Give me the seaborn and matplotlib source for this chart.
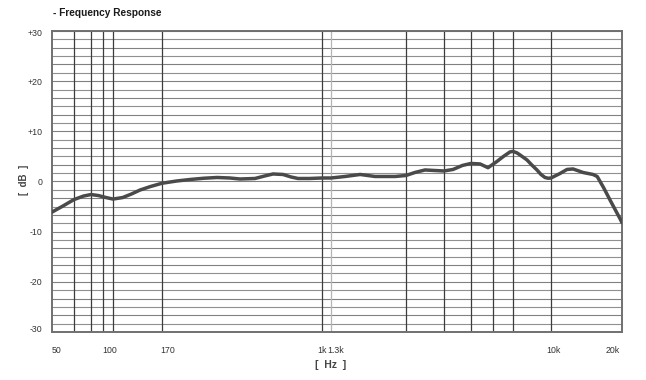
import numpy as np
import pandas as pd
import matplotlib
matplotlib.use("Agg")
import matplotlib.pyplot as plt
import matplotlib.transforms as mtransforms
import seaborn as sns

# ---- data ----
freq_hz = [50, 56, 63, 72, 80, 86, 93, 100, 111, 122, 134, 150, 170, 200, 232, 270, 313, 360, 403,
           476, 530, 581, 649, 710, 767, 870, 1000, 1300, 1409, 1537, 1675, 1879, 2000, 2200, 2450,
           2700, 3000, 3303, 3650, 4000, 4385, 4753, 5185, 5500, 5840, 6000, 6330, 6590, 7240,
           7720, 8280, 8740, 9220, 9620, 10000, 10920, 11690, 12400, 13670, 15070, 15700, 16700,
           17800, 19610, 20000]
response_db = [-6.1, -4.9, -3.6, -2.9, -2.6, -2.8, -3.2, -3.5, -3.2, -2.5, -1.7, -1.0, -0.35,
               0.1, 0.4, 0.65, 0.8, 0.7, 0.5, 0.6, 1.1, 1.5, 1.4, 0.9, 0.6, 0.6, 0.7, 0.7, 1.0,
               1.4, 1.0, 1.0, 1.2, 1.8, 2.3, 2.2, 2.1, 2.4, 3.2, 3.6, 3.5, 2.75, 4.0, 5.0, 5.9,
               6.0, 5.7, 5.3, 4.3, 3.3, 2.3, 1.4, 0.8, 0.65, 0.7, 1.6, 2.4, 2.5, 1.8, 1.4, 1.0,
               -1.2, -3.7, -7.4, -8.2]

tick_freqs = [50, 100, 170, 1000, 1300, 10000, 20000]
tick_labels = ["50", "100", "170", "1k", "1.3k", "10k", "20k"]
ytick_vals = [-30, -20, -10, 0, 10, 20, 30]
ytick_labels = ["-30", "-20", "-10", "0", "+10", "+20", "+30"]

# vertical grid lines of the chart paper (frequencies) and their paper positions
grid_freqs = [50, 63, 80, 90, 100, 170, 1000, 1300, 2000, 3000, 4000, 5000, 6000, 10000, 20000]
grid_pos = [52, 74, 91, 103, 113, 162, 322, 331, 406, 444, 471, 493, 513, 551, 622]

df = pd.DataFrame({"freq": freq_hz, "db": response_db})

sns.set_theme(style="white")
plt.rcParams["font.family"] = ["Liberation Sans", "DejaVu Sans"]

fig = plt.figure(figsize=(6.46, 3.80), dpi=100)
W, H = 646, 380
ax = fig.add_axes([52 / W, (H - 332) / H, (622 - 52) / W, (332 - 31) / H])

lg = np.log10(grid_freqs)
gp = np.array(grid_pos, dtype=float)


def fwd(f):
    f = np.asarray(f, dtype=float)
    return np.interp(np.log10(np.clip(f, 1e-6, None)), lg, gp)


def inv(p):
    return 10 ** np.interp(np.asarray(p, dtype=float), gp, lg)


ax.set_xscale("function", functions=(fwd, inv))
ax.set_xlim(50, 20000)
ax.set_ylim(-30, 30)

# horizontal paper lines every 10/6 dB
for i, yv in enumerate(np.linspace(-30, 30, 37)):
    ax.axhline(yv, color="#909090" if i % 2 else "#808080", lw=0.8, zorder=1)
# vertical paper lines
for gf in grid_freqs[1:-1]:
    c = "#b5b5b5" if gf == 1300 else "#3c3c3c"
    ax.axvline(gf, color=c, lw=0.9, zorder=1)

sns.lineplot(data=df, x="freq", y="db", ax=ax, color="#4a4a4a", lw=2.5,
             solid_joinstyle="round", solid_capstyle="round", zorder=3)

ax.set_xlabel("")
ax.set_ylabel("")
ax.grid(False)
ax.xaxis.set_minor_locator(matplotlib.ticker.NullLocator())
ax.set_xticks(tick_freqs)
ax.set_xticklabels(tick_labels)
ax.set_yticks(ytick_vals)
ax.set_yticklabels(ytick_labels)
ax.tick_params(axis="both", length=0, labelsize=6.3, colors="#333333")
ax.tick_params(axis="x", pad=10)
ax.tick_params(axis="y", pad=7)

# small label offsets as on the original sheet (pixels)
dx = [5, -3, 6, 0, 5, 2, -9]
for lab, d in zip(ax.get_xticklabels(), dx):
    lab.set_transform(lab.get_transform() + mtransforms.ScaledTranslation(d / 100, 0, fig.dpi_scale_trans))
ydy = [4, 0, 0, 0, 0, 0, -2]
for lab, d in zip(ax.get_yticklabels(), ydy):
    lab.set_transform(lab.get_transform() + mtransforms.ScaledTranslation(0, d / 100, fig.dpi_scale_trans))

for sp in ax.spines.values():
    sp.set_color("#707070")
    sp.set_linewidth(1.4)
    sp.set_visible(True)

fig.text(53 / W, 1 - 13 / H, "- Frequency Response", fontsize=7.3, fontweight="bold",
         color="#1a1a1a", ha="left", va="center")
fig.text(24 / W, 1 - 180 / H, "[  dB  ]", fontsize=7, color="#444444", rotation=90,
         ha="center", va="center", fontweight="bold")
fig.text(331 / W, 1 - 365 / H, "[  Hz  ]", fontsize=7.5, color="#444444",
         ha="center", va="center", fontweight="bold")

fig.savefig("out.png", dpi=100)
